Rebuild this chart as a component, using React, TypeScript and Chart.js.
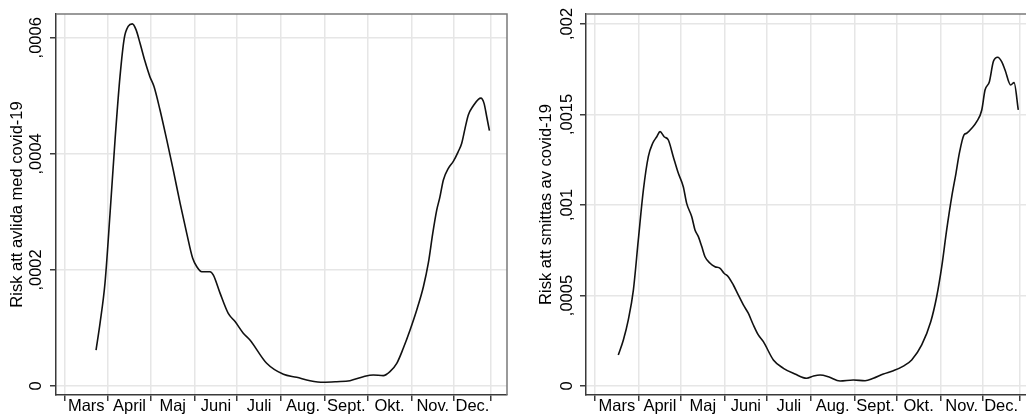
import React, { useEffect, useRef } from 'react';
import { Chart, registerables } from 'chart.js';

Chart.register(...registerables);

// Month boundaries in days since 1 March, and month labels
const monthLabels = ['Mars', 'April', 'Maj', 'Juni', 'Juli', 'Aug.', 'Sept.', 'Okt.', 'Nov.', 'Dec.'];
const monthStarts = [0, 31, 61, 92, 122, 153, 184, 214, 245, 275, 301];

// Left panel: risk of dying with covid-19
const deathDays = [
  22.4, 25.2, 28.7, 32.3, 35.8, 39.3, 42.3, 45.2, 48.0, 50.6, 53.4, 57.0, 60.4, 63.3, 67.5, 72.3,
  76.9, 81.7, 86.4, 90.6, 93.4, 97.0, 102.8, 105.2, 109.9, 115.7, 120.5, 126.3, 131.0, 142.8, 154.6,
  164.0, 173.4, 182.8, 192.2, 201.6, 211.0, 218.0, 225.1, 229.8, 234.6, 239.2, 244.0, 248.7, 253.4,
  256.9, 260.0, 262.8, 265.0, 267.5, 271.0, 274.5, 278.0, 280.4, 282.8, 285.1, 288.6, 292.2, 294.0,
  296.2, 298.1, 300.0,
];
const deathRisk = [
  0.000062, 0.000108, 0.000177, 0.000298, 0.000424, 0.000533, 0.000599, 0.000620, 0.000624, 0.000614,
  0.000591, 0.000559, 0.000533, 0.000516, 0.000476, 0.000424, 0.000372, 0.000315, 0.000263, 0.000220,
  0.000206, 0.000197, 0.000197, 0.000191, 0.000160, 0.000125, 0.000111, 0.000091, 0.0000793, 0.0000391,
  0.0000201, 0.000015, 0.0000092, 0.0000064, 0.0000074, 0.0000092, 0.000016, 0.000019, 0.0000178,
  0.0000247, 0.000039, 0.000065, 0.0000966, 0.000131, 0.000171, 0.000212, 0.000263, 0.000303, 0.000325,
  0.000355, 0.000375, 0.000387, 0.000404, 0.000418, 0.000444, 0.000467, 0.000483, 0.000494, 0.000496,
  0.000487, 0.000464, 0.000440,
];

// Right panel: risk of being infected with covid-19
const infectDays = [
  16.5, 20.1, 23.6, 27.2, 30.7, 34.3, 37.8, 40.9, 43.8, 46.1, 49.0, 52.0, 55.5, 59.1, 62.6, 65.0,
  68.6, 70.9, 73.3, 75.7, 78.0, 81.6, 85.1, 88.7, 91.5, 94.5, 98.1, 101.6, 105.2, 108.7, 112.3, 115.8,
  119.4, 126.5, 133.6, 141.8, 150.1, 155.0, 159.6, 165.5, 173.8, 183.2, 191.5, 197.4, 204.5, 211.6,
  218.7, 224.6, 231.7, 238.1, 242.3, 245.9, 249.4, 253.0, 256.0, 258.4, 261.7, 263.6, 267.2, 270.7,
  274.3, 276.6, 279.7, 282.5, 285.6, 288.4, 290.8, 294.8, 297.2, 300.2,
];
const infectRisk = [
  0.000171, 0.000254, 0.000365, 0.000530, 0.000807, 0.001083, 0.001267, 0.001341, 0.001377, 0.001405,
  0.001377, 0.001359, 0.001267, 0.001175, 0.001101, 0.001009, 0.000935, 0.000862, 0.000825, 0.000770,
  0.000714, 0.000678, 0.000659, 0.000650, 0.000623, 0.000604, 0.000558, 0.000503, 0.000448, 0.000402,
  0.000337, 0.000282, 0.000245, 0.000144, 0.0000978, 0.0000663, 0.0000425, 0.000055, 0.0000608,
  0.0000514, 0.0000276, 0.0000331, 0.0000293, 0.0000425, 0.0000663, 0.0000845, 0.000110, 0.000144,
  0.000227, 0.000355, 0.000493, 0.000659, 0.000862, 0.001046, 0.001175, 0.001286, 0.001387, 0.001396,
  0.001424, 0.001460, 0.001525, 0.001635, 0.001681, 0.001792, 0.001816, 0.001792, 0.001746, 0.001663,
  0.001676, 0.001525,
];

const deathTicks = [0, 0.0002, 0.0004, 0.0006];
const deathTickLabels = ['0', ',0002', ',0004', ',0006'];
const infectTicks = [0, 0.0005, 0.001, 0.0015, 0.002];
const infectTickLabels = ['0', ',0005', ',001', ',0015', ',002'];

const FONT = "'Liberation Sans', Arial, Helvetica, sans-serif";
const GRID = '#e6e6e6';
const AXIS = '#3a3a3a';

const monthMids = monthLabels.map((_, i) => (monthStarts[i] + monthStarts[i + 1]) / 2);

type Panel = {
  days: number[];
  risk: number[];
  yTicks: number[];
  yLabels: string[];
  yTitle: string;
  yMin: number;
  yMax: number;
  xMin: number;
  xMax: number;
  axisWidth: number;
  padRight: number;
  titlePad: number;
  labelOffset: number;
};

function makeConfig(p: Panel): any {
  const labelPlugin = {
    id: 'frameAndLabels',
    afterDraw(chart: any) {
      const { ctx, chartArea: a } = chart;
      const ys = chart.scales.y;
      ctx.save();
      ctx.strokeStyle = '#7a7a7a';
      ctx.lineWidth = 1.5;
      ctx.beginPath();
      ctx.moveTo(a.left, a.top);
      ctx.lineTo(a.right, a.top);
      ctx.lineTo(a.right, a.bottom);
      ctx.stroke();
      ctx.fillStyle = '#000';
      ctx.font = `16.5px ${FONT}`;
      ctx.textAlign = 'center';
      ctx.textBaseline = 'middle';
      p.yTicks.forEach((v, i) => {
        const y = ys.getPixelForValue(v);
        ctx.save();
        ctx.translate(a.left - p.labelOffset, y);
        ctx.rotate(-Math.PI / 2);
        ctx.fillText(p.yLabels[i], 0, 0);
        ctx.restore();
      });
      ctx.restore();
    },
  };

  const isBoundary = (v: number) => monthStarts.includes(v);

  return {
    type: 'line',
    data: {
      datasets: [
        {
          data: p.days.map((d, i) => ({ x: d, y: p.risk[i] })),
          borderColor: '#111',
          borderWidth: 1.6,
          pointRadius: 0,
          fill: false,
          cubicInterpolationMode: 'monotone',
        },
      ],
    },
    options: {
      responsive: false,
      animation: false,
      events: [],
      layout: { padding: { left: 0, top: 14, right: p.padRight, bottom: 0 } },
      plugins: { legend: { display: false }, tooltip: { enabled: false }, title: { display: false } },
      scales: {
        x: {
          type: 'linear',
          min: p.xMin,
          max: p.xMax,
          afterBuildTicks: (s: any) => {
            const vals = [...monthStarts, ...monthMids].sort((a, b) => a - b);
            s.ticks = vals.map((v) => ({ value: v }));
          },
          afterFit: (s: any) => {
            s.height = 19;
          },
          ticks: {
            autoSkip: false,
            maxRotation: 0,
            minRotation: 0,
            padding: -4,
            color: '#000',
            font: { family: FONT, size: 16.5 },
            callback: (value: number) => {
              const i = monthMids.indexOf(value);
              return i >= 0 ? monthLabels[i] : '';
            },
          },
          grid: {
            color: (c: any) => (c.tick && isBoundary(c.tick.value) ? GRID : 'rgba(0,0,0,0)'),
            tickColor: (c: any) => (c.tick && isBoundary(c.tick.value) ? AXIS : 'rgba(0,0,0,0)'),
            lineWidth: 1.5,
            tickLength: 6,
          },
          border: { display: true, color: AXIS, width: 1.5 },
        },
        y: {
          type: 'linear',
          min: p.yMin,
          max: p.yMax,
          afterBuildTicks: (s: any) => {
            s.ticks = p.yTicks.map((v) => ({ value: v }));
          },
          afterFit: (s: any) => {
            s.width = p.axisWidth;
          },
          ticks: { display: false },
          grid: { color: GRID, tickColor: AXIS, lineWidth: 1.5, tickLength: 6 },
          border: { display: true, color: AXIS, width: 1.5 },
          title: {
            display: true,
            text: p.yTitle,
            color: '#000',
            font: { family: FONT, size: 16.5 },
            padding: { top: p.titlePad, bottom: 0 },
          },
        },
      },
    },
    plugins: [labelPlugin],
  };
}

const leftPanel: Panel = {
  days: deathDays,
  risk: deathRisk,
  yTicks: deathTicks,
  yLabels: deathTickLabels,
  yTitle: 'Risk att avlida med covid-19',
  yMin: -0.0000155,
  yMax: 0.000641,
  xMin: -5.86,
  xMax: 312.4,
  axisWidth: 56,
  padRight: 13,
  titlePad: 8,
  labelOffset: 20,
};

const rightPanel: Panel = {
  days: infectDays,
  risk: infectRisk,
  yTicks: infectTicks,
  yLabels: infectTickLabels,
  yTitle: 'Risk att smittas av covid-19',
  yMin: -0.0000497,
  yMax: 0.002055,
  xMin: -6.4,
  xMax: 312.4,
  axisWidth: 66,
  padRight: 14.5,
  titlePad: 16.5,
  labelOffset: 19,
};

function PanelChart({ panel, left, width }: { panel: Panel; left: number; width: number }) {
  const ref = useRef<HTMLCanvasElement | null>(null);
  useEffect(() => {
    if (!ref.current) return;
    const chart = new Chart(ref.current, makeConfig(panel));
    return () => chart.destroy();
  }, [panel]);
  return (
    <canvas
      ref={ref}
      width={width}
      height={414}
      style={{ position: 'absolute', left, top: 0, width, height: 414, display: 'block' }}
    />
  );
}

export default function App() {
  return (
    <div
      style={{
        position: 'fixed',
        left: 0,
        top: 0,
        width: 1026,
        height: 414,
        overflow: 'hidden',
        background: '#fff',
      }}
    >
      <PanelChart panel={leftPanel} left={0} width={520} />
      <PanelChart panel={rightPanel} left={520} width={530} />
    </div>
  );
}
